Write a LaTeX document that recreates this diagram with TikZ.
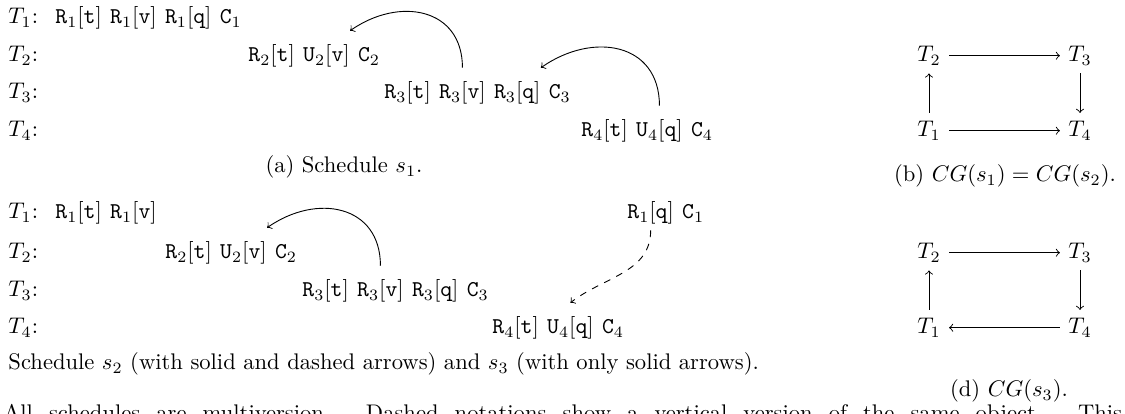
\documentclass[tikz,border=0pt]{standalone}
\usetikzlibrary{arrows.meta,positioning}

\begin{document}
\begin{tikzpicture}[
  x=0.4425pt, y=-0.4425pt,
  >=to,
  txn/.style={anchor=base west, inner sep=0pt},
  op/.style={inner xsep=0pt, inner ysep=2.5pt, text height=11pt},
  cg/.style={inner sep=3.5pt},
  dep/.style={->, thin},
  subcap/.style={anchor=base, inner sep=0pt}
]
  \useasboundingbox (0,0) rectangle (1125,414);
  \clip (0,0) rectangle (1125,414);

  % (a) Schedule s1
  \node[txn] (la1) at (8,23.7) {$T_1$:};
  \node[txn] (la2) at (8,61.7) {$T_2$:};
  \node[txn] (la3) at (8,98.7) {$T_3$:};
  \node[txn] (la4) at (8,136.7) {$T_4$:};

  \node[op, anchor=base west] (a1t) at (55,23.7) {$\mathtt{R}_1[\mathtt{t}]$};
  \node[op, base right=3.3pt of a1t] (a1v) {$\mathtt{R}_1[\mathtt{v}]$};
  \node[op, base right=3.3pt of a1v] (a1q) {$\mathtt{R}_1[\mathtt{q}]$};
  \node[op, base right=3.3pt of a1q] (a1c) {$\mathtt{C}_1$};

  \node[op, anchor=base west] (a2t) at (248,61.7) {$\mathtt{R}_2[\mathtt{t}]$};
  \node[op, base right=3.3pt of a2t] (a2v) {$\mathtt{U}_2[\mathtt{v}]$};
  \node[op, base right=3.3pt of a2v] (a2c) {$\mathtt{C}_2$};

  \node[op, anchor=base west] (a3t) at (384,98.7) {$\mathtt{R}_3[\mathtt{t}]$};
  \node[op, base right=3.3pt of a3t] (a3v) {$\mathtt{R}_3[\mathtt{v}]$};
  \node[op, base right=3.3pt of a3v] (a3q) {$\mathtt{R}_3[\mathtt{q}]$};
  \node[op, base right=3.3pt of a3q] (a3c) {$\mathtt{C}_3$};

  \node[op, anchor=base west] (a4t) at (581,136.7) {$\mathtt{R}_4[\mathtt{t}]$};
  \node[op, base right=3.3pt of a4t] (a4q) {$\mathtt{U}_4[\mathtt{q}]$};
  \node[op, base right=3.3pt of a4q] (a4c) {$\mathtt{C}_4$};

  \draw[dep] (a3v.north) to[out=90, in=35, looseness=1.3] (a2v.north east);
  \draw[dep] (a4q.north) to[out=90, in=35, looseness=1.3] (a3q.north east);

  \node[subcap] (capa) at (344,173) {(a) Schedule $s_1$.};

  % (b) conflict graph of s1 and s2
  \node[cg] (b2) at (929,55.7) {$T_2$};
  \node[cg] (b3) at (1080,55.7) {$T_3$};
  \node[cg] (b1) at (929,130.7) {$T_1$};
  \node[cg] (b4) at (1080,130.7) {$T_4$};
  \draw[dep] (b2) -- (b3);
  \draw[dep] (b3) -- (b4);
  \draw[dep] (b1) -- (b2);
  \draw[dep] (b1) -- (b4);

  \node[subcap] (capb) at (1005,182) {(b) $CG(s_1) = CG(s_2)$.};

  % Schedules s2 and s3
  \node[txn] (lc1) at (8,218.7) {$T_1$:};
  \node[txn] (lc2) at (8,258.7) {$T_2$:};
  \node[txn] (lc3) at (8,296.7) {$T_3$:};
  \node[txn] (lc4) at (8,333.7) {$T_4$:};

  \node[op, anchor=base west] (c1t) at (55,218.7) {$\mathtt{R}_1[\mathtt{t}]$};
  \node[op, base right=3.3pt of c1t] (c1v) {$\mathtt{R}_1[\mathtt{v}]$};
  \node[op, anchor=base west] (c1q) at (627,218.7) {$\mathtt{R}_1[\mathtt{q}]$};
  \node[op, base right=3.3pt of c1q] (c1c) {$\mathtt{C}_1$};

  \node[op, anchor=base west] (c2t) at (165,258.7) {$\mathtt{R}_2[\mathtt{t}]$};
  \node[op, base right=3.3pt of c2t] (c2v) {$\mathtt{U}_2[\mathtt{v}]$};
  \node[op, base right=3.3pt of c2v] (c2c) {$\mathtt{C}_2$};

  \node[op, anchor=base west] (c3t) at (302,296.7) {$\mathtt{R}_3[\mathtt{t}]$};
  \node[op, base right=3.3pt of c3t] (c3v) {$\mathtt{R}_3[\mathtt{v}]$};
  \node[op, base right=3.3pt of c3v] (c3q) {$\mathtt{R}_3[\mathtt{q}]$};
  \node[op, base right=3.3pt of c3q] (c3c) {$\mathtt{C}_3$};

  \node[op, anchor=base west] (c4t) at (492,333.7) {$\mathtt{R}_4[\mathtt{t}]$};
  \node[op, base right=3.3pt of c4t] (c4q) {$\mathtt{U}_4[\mathtt{q}]$};
  \node[op, base right=3.3pt of c4q] (c4c) {$\mathtt{C}_4$};

  \draw[dep] (c3v.north) to[out=90, in=35, looseness=1.3] (c2v.north east);
  \draw[dep, dashed] (c1q.south) to[out=-90, in=38] (c4q.north);

  \node[txn] (capc) at (8,370) {Schedule $s_2$ (with solid and dashed arrows) and $s_3$ (with only solid arrows).};

  % (d) conflict graph of s3
  \node[cg] (d2) at (929,252.7) {$T_2$};
  \node[cg] (d3) at (1080,252.7) {$T_3$};
  \node[cg] (d1) at (929,327.7) {$T_1$};
  \node[cg] (d4) at (1080,327.7) {$T_4$};
  \draw[dep] (d2) -- (d3);
  \draw[dep] (d3) -- (d4);
  \draw[dep] (d1) -- (d2);
  \draw[dep] (d4) -- (d1);

  \node[subcap] (capd) at (1009,397) {(d) $CG(s_3)$.};

  % cut-off caption line
  \node[txn] (note) at (3,421) {\makebox[495pt][s]{All schedules are multiversion. Dashed notations show a vertical version of the same object. This}};

\end{tikzpicture}
\end{document}
